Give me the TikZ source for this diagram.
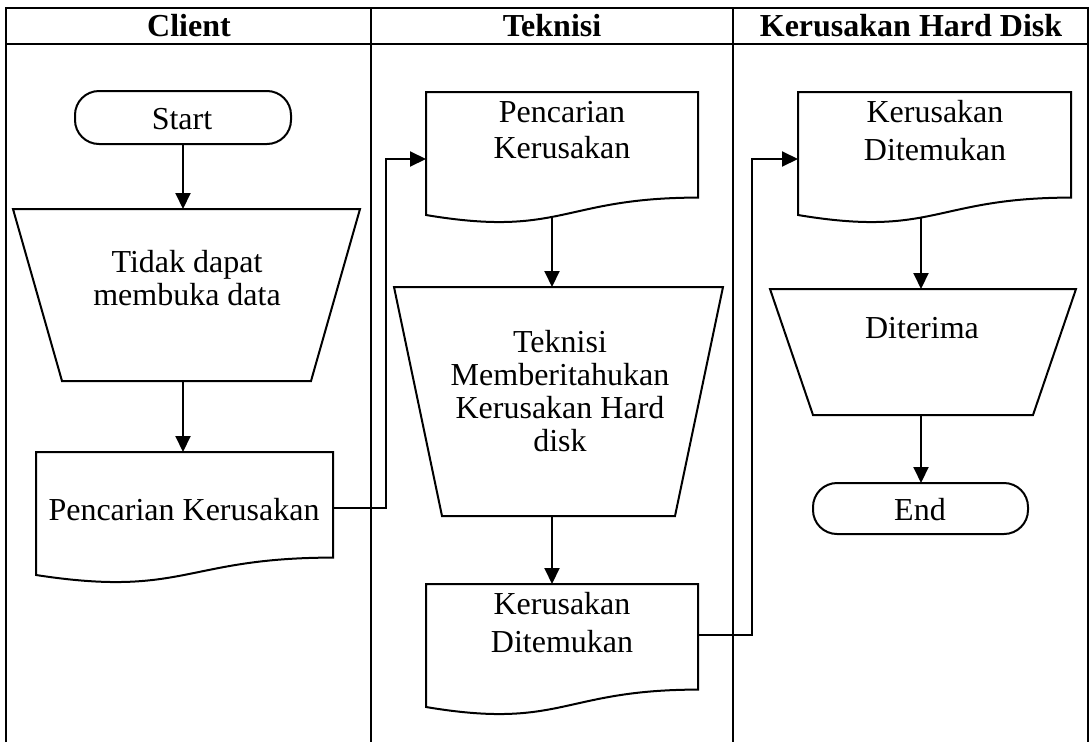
\documentclass[tikz,border=0pt]{standalone}
\usepackage{fontspec}
\setmainfont{Liberation Serif}
\usetikzlibrary{arrows.meta,calc}
\newcommand\docpath[1]{%
  \draw[shp] (#1.north west) -- (#1.north east) -- ([yshift=-105.6pt]#1.north east)
    .. controls ([yshift=-105.6pt]#1.north) and ([yshift=-145.9pt]#1.north) ..
    ([yshift=-123pt]#1.north west) -- cycle;}
\newcommand\trappath[2]{%
  \draw[shp] (#1.north west) -- (#1.north east) -- ([xshift=-#2pt]#1.south east)
    -- ([xshift=#2pt]#1.south west) -- cycle;}
\begin{document}
\begin{tikzpicture}[x=1pt,y=-1pt,
  tbl/.style={line width=2.8pt},
  shp/.style={line width=2pt},
  arr/.style={line width=2pt,-{Triangle[length=16pt,width=15pt]}},
  box/.style={draw=none,inner sep=0pt,outer sep=0pt,anchor=north west},
  txt/.style={font=\fontsize{32}{33}\selectfont,anchor=base,inner sep=0pt,align=center},
  hdr/.style={font=\fontsize{32}{33}\selectfont\bfseries,anchor=base,inner sep=0pt}]
\useasboundingbox (0,0) rectangle (1089,742);
% table
\draw[tbl] (6,742) -- (6,8) -- (1088,8) -- (1088,742);
\draw[tbl] (6,44) -- (1088,44);
\draw[tbl] (371,8) -- (371,742);
\draw[tbl] (733,8) -- (733,742);
\node[hdr] (h1) at (189,36) {Client};
\node[hdr] (h2) at (552,36) {Teknisi};
\node[hdr] (h3) at (911,36) {Kerusakan Hard Disk};
% shapes
\node[box,draw,shp,rounded corners=24pt,minimum width=216pt,minimum height=53pt] (start) at (75,91) {};
\node[txt] (startt) at (182,129) {Start};
\node[box,minimum width=347pt,minimum height=172pt] (t1) at (13,209) {};
\trappath{t1}{49}
\node[txt] (t1t) at (187,305) {Tidak dapat\\membuka data};
\node[box,minimum width=297pt,minimum height=131.7pt] (d1) at (36,452) {};
\docpath{d1}
\node[txt] (d1t) at (184,520) {Pencarian Kerusakan};
\node[box,minimum width=272pt,minimum height=131.7pt] (d2) at (426,92) {};
\docpath{d2}
\node[txt,font=\fontsize{32}{36}\selectfont] (d2t) at (562,158) {Pencarian\\Kerusakan};
\node[box,minimum width=329pt,minimum height=229pt] (t2) at (394,287) {};
\trappath{t2}{48}
\node[txt] (t2t) at (560,451) {Teknisi\\Memberitahukan\\Kerusakan Hard\\disk};
\node[box,minimum width=272pt,minimum height=131.7pt] (d3) at (426,584) {};
\docpath{d3}
\node[txt,font=\fontsize{32}{38}\selectfont] (d3t) at (562,652) {Kerusakan\\Ditemukan};
\node[box,minimum width=273pt,minimum height=131.7pt] (d4) at (798,92) {};
\docpath{d4}
\node[txt,font=\fontsize{32}{38}\selectfont] (d4t) at (935,160) {Kerusakan\\Ditemukan};
\node[box,minimum width=306pt,minimum height=126pt] (t3) at (770,289) {};
\trappath{t3}{43}
\node[txt] (t3t) at (922,338) {Diterima};
\node[box,draw,shp,rounded corners=24pt,minimum width=215pt,minimum height=51pt] (end) at (813,483) {};
\node[txt] (endt) at (920,520) {End};
% connectors
\coordinate (d2b) at (552,217);
\coordinate (d4b) at (921,217);
\coordinate (j1) at (386,159);
\coordinate (j2) at (752,159);
\draw[arr] (start.south) -- (start.south |- t1.north);
\draw[arr] (start.south |- t1.south) -- (start.south |- d1.north);
\draw[arr] ([yshift=10pt]d1.east) -| (j1) -- (j1 -| d2.west);
\draw[arr] (d2b) -- (d2b |- t2.north);
\draw[arr] (d2b |- t2.south) -- (d2b |- d3.north);
\draw[arr] ([yshift=15pt]d3.east) -| (j2) -- (j2 -| d4.west);
\draw[arr] (d4b) -- (d4b |- t3.north);
\draw[arr] (d4b |- t3.south) -- (d4b |- end.north);
\end{tikzpicture}
\end{document}
